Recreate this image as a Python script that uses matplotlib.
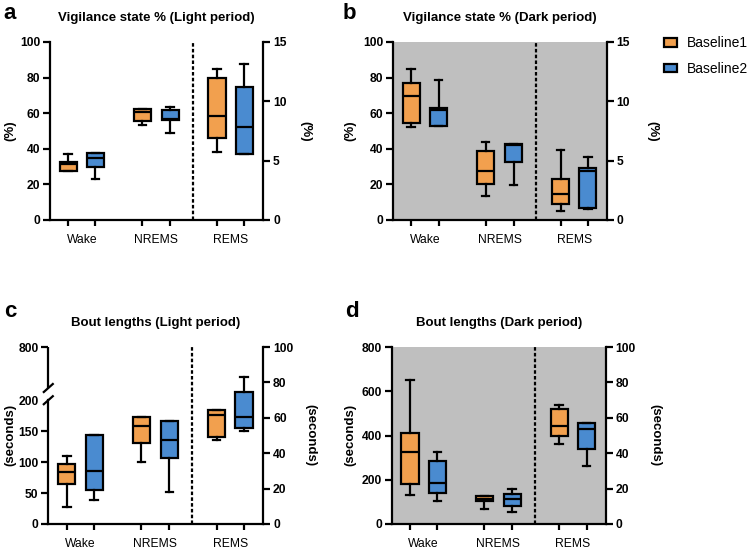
import numpy as np
import matplotlib.pyplot as plt
from matplotlib.patches import Patch

plt.rcParams['font.family'] = ['Liberation Sans', 'DejaVu Sans']

categories = ['Wake', 'NREMS', 'REMS']
series = ['Baseline1', 'Baseline2']
colors = ['#F2A04E', '#4A8BD0']
positions = [0, 1, 2.72, 3.74, 5.46, 6.46]

# five-number summaries per category: [min, q1, median, q3, max]
# REMS values go on the right axis
a_base1 = [[27.7, 27.7, 31.2, 32.7, 37.2], [53.6, 55.5, 60.4, 62.2, 62.2], [5.72, 6.92, 8.80, 11.97, 12.76]]
a_base2 = [[22.8, 29.9, 34.6, 37.4, 37.4], [48.6, 56.3, 57.0, 61.7, 63.6], [5.55, 5.55, 7.85, 11.21, 13.18]]
b_base1 = [[52.3, 54.6, 69.9, 76.8, 84.7], [13.5, 20.2, 27.5, 38.7, 43.6], [0.78, 1.32, 2.16, 3.45, 5.92]]
b_base2 = [[52.9, 52.9, 61.7, 63.2, 78.7], [19.6, 32.7, 42.4, 42.6, 42.6], [0.93, 0.98, 4.15, 4.40, 5.30]]
c_base1 = [[28.2, 64.4, 83.9, 97.5, 110.4], [100.2, 130.5, 158.1, 172.7, 172.7], [47.2, 49.1, 61.6, 64.2, 64.2]]
c_base2 = [[39.5, 54.7, 86.1, 143.5, 143.5], [51.4, 106.7, 136.4, 166.2, 166.2], [52.4, 54.3, 60.7, 74.7, 82.8]]
d_base1 = [[133, 181, 324, 412, 650], [66, 102, 115, 126, 126], [45.1, 49.8, 55.2, 65.0, 67.0]]
d_base2 = [[103, 139, 184, 285, 327], [52, 82, 111, 136, 157], [32.8, 42.1, 53.7, 57.1, 57.1]]

pct_left = [0, 20, 40, 60, 80, 100]
pct_right = [0, 5, 10, 15]
sec_left_c = [0, 50, 100, 150, 200, 800]
sec_left_d = [0, 200, 400, 600, 800]
sec_right = [0, 20, 40, 60, 80, 100]

W, H = 749, 549
fig = plt.figure(figsize=(W / 100, H / 100), dpi=100)


def px_rect(l, t, r, b):
    return [l / W, 1 - b / H, (r - l) / W, (b - t) / H]


def setup(rect, gray):
    ax = fig.add_axes(rect)
    ax2 = ax.twinx()
    if gray:
        ax.set_facecolor('#BFBFBF')
    for s in ['top', 'right']:
        ax.spines[s].set_visible(False)
    for s in ['top', 'left', 'bottom']:
        ax2.spines[s].set_visible(False)
    for a in (ax, ax2):
        for s in a.spines.values():
            s.set_linewidth(1.6)
        a.tick_params(axis='y', length=5, width=1.6, pad=2, labelsize=8.7)
    ax.set_xlim(-0.67, 7.16)
    ax.set_xticks(positions)
    ax.set_xticklabels([''] * 6)
    ax.set_xticks([0.5, 3.23, 5.96], minor=True)
    ax.set_xticklabels(categories, minor=True, fontsize=8.7)
    ax.tick_params(axis='x', which='major', length=4.5, width=1.6)
    ax.tick_params(axis='x', which='minor', length=0, pad=10)
    ax.axvline(4.58, color='black', lw=1.6, ls=(0, (1.6, 1.0)), zorder=1)
    return ax, ax2


def draw_boxes(ax, ax2, base1, base2):
    for i in range(3):
        for j, data in enumerate([base1, base2]):
            v = data[i]
            st = dict(whislo=v[0], q1=v[1], med=v[2], q3=v[3], whishi=v[4], fliers=[])
            target = ax2 if i == 2 else ax
            target.bxp([st], positions=[positions[2 * i + j]], widths=0.63, capwidths=[0.28],
                       patch_artist=True, showfliers=False, manage_ticks=False,
                       boxprops=dict(facecolor=colors[j], edgecolor='black', linewidth=1.6),
                       medianprops=dict(color='black', linewidth=1.6),
                       whiskerprops=dict(color='black', linewidth=1.6),
                       capprops=dict(color='black', linewidth=1.6), zorder=3)


def bold_ticks(*axes):
    for a in axes:
        for lab in a.get_yticklabels():
            lab.set_fontweight('bold')


# panel a
axa, axa2 = setup(px_rect(50, 42, 263.3, 220), False)
draw_boxes(axa, axa2, a_base1, a_base2)
axa.set_ylim(0, 100)
axa.set_yticks(pct_left)
axa2.set_ylim(0, 15)
axa2.set_yticks(pct_right)
bold_ticks(axa, axa2)
axa.set_title('Vigilance state % (Light period)', fontsize=9.5, fontweight='bold', pad=15)

# panel b
axb, axb2 = setup(px_rect(393, 42, 607, 220), True)
draw_boxes(axb, axb2, b_base1, b_base2)
axb.set_ylim(0, 100)
axb.set_yticks(pct_left)
axb2.set_ylim(0, 15)
axb2.set_yticks(pct_right)
bold_ticks(axb, axb2)
axb.set_title('Vigilance state % (Dark period)', fontsize=9.5, fontweight='bold', pad=15)

# panel c, left axis broken between 200 and 800
k_lo = 123.3 / 200
k_hi = 53.0 / 600


def fwd(y):
    y = np.asarray(y, dtype=float)
    return np.where(y <= 200, y * k_lo, 200 * k_lo + (y - 200) * k_hi)


def inv(z):
    z = np.asarray(z, dtype=float)
    return np.where(z <= 200 * k_lo, z / k_lo, 200 + (z - 200 * k_lo) / k_hi)


axc, axc2 = setup(px_rect(48.3, 347, 263.3, 524), False)
axc.set_yscale('function', functions=(fwd, inv))
axc.set_ylim(0, 800)
axc.set_yticks(sec_left_c)
axc.set_yticklabels([str(t) for t in sec_left_c])
draw_boxes(axc, axc2, c_base1, c_base2)
axc2.set_ylim(0, 100)
axc2.set_yticks(sec_right)
bold_ticks(axc, axc2)
axc.yaxis.get_major_ticks()[4].tick1line.set_visible(False)
axc.spines['left'].set_bounds(0, 200)
y_lo = fwd(200) / fwd(800)
y_up = (524 - 388) / 177
axc.plot([0, 0], [y_up, 1], transform=axc.transAxes, color='black', lw=1.6,
         clip_on=False, solid_capstyle='butt')
dx, dy = 4.5 / 215, 4.0 / 177
for yc in (y_lo, y_up):
    axc.plot([-dx, dx], [yc - dy, yc + dy], transform=axc.transAxes, color='black',
             lw=1.6, clip_on=False)
axc.set_title('Bout lengths (Light period)', fontsize=9.5, fontweight='bold', pad=15)

# panel d
axd, axd2 = setup(px_rect(391.7, 347, 605.7, 524), True)
draw_boxes(axd, axd2, d_base1, d_base2)
axd.set_ylim(0, 800)
axd.set_yticks(sec_left_d)
axd2.set_ylim(0, 100)
axd2.set_yticks(sec_right)
bold_ticks(axd, axd2)
axd.set_title('Bout lengths (Dark period)', fontsize=9.5, fontweight='bold', pad=15)

# axis titles
for x, y, s, rot in [(10, 131, '(%)', 90), (305, 131, '(%)', 270),
                     (350, 131, '(%)', 90), (652, 131, '(%)', 270),
                     (10, 435, '(seconds)', 90), (310, 435, '(seconds)', 270),
                     (350, 435, '(seconds)', 90), (655, 435, '(seconds)', 270)]:
    fig.text(x / W, 1 - y / H, s, rotation=rot, ha='center', va='center',
             fontsize=9.5, fontweight='bold')

# panel letters
for x, y, s in [(3, 19, 'a'), (343, 19, 'b'), (4, 317, 'c'), (345, 317, 'd')]:
    fig.text(x / W, 1 - y / H, s, fontsize=16, fontweight='bold', ha='left', va='baseline')

handles = [Patch(facecolor=colors[k], edgecolor='black', linewidth=1.6, label=series[k])
           for k in range(2)]
fig.legend(handles=handles, loc='upper left', bbox_to_anchor=(664 / W, 1 - 36 / H),
           frameon=False, fontsize=10, handlelength=0.95, handleheight=0.6,
           handletextpad=0.7, labelspacing=0.85, borderpad=0, borderaxespad=0)

fig.savefig('out.png', dpi=100)
